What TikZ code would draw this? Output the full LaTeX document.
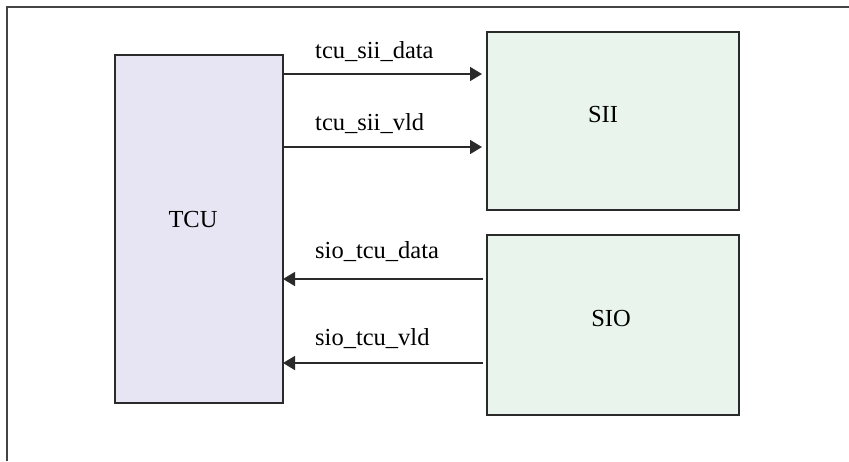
\documentclass[tikz,border=0pt]{standalone}
\usepackage{fontspec}
\setmainfont{Liberation Serif}
\usetikzlibrary{arrows.meta}
\definecolor{tcufill}{HTML}{E7E5F3}
\definecolor{siifill}{HTML}{E8F4EC}
\definecolor{edge}{HTML}{2A2A2A}
\definecolor{framec}{HTML}{444444}
\tikzset{
  blockbox/.style={draw=edge, line width=1.6pt, inner sep=0pt, outer sep=0pt, anchor=north west},
  sig/.style={draw=edge, line width=1.6pt, -{Triangle[length=12pt,width=14pt]}},
  sigtext/.style={anchor=base west, inner sep=0pt, font=\fontsize{24.5}{28}\selectfont},
  blocktext/.style={anchor=base, inner sep=0pt, font=\fontsize{24.5}{28}\selectfont},
}
\begin{document}
\begin{tikzpicture}[x=1pt,y=-1pt]
\useasboundingbox (0,0) rectangle (849,461);
% outer frame (left and top edges visible)
\draw[framec, line width=1.4pt] (7,461) -- (7,7) -- (849,7);
% blocks
\node[blockbox, fill=tcufill, minimum width=168pt, minimum height=348pt] (tcu) at (115,55) {};
\node[blockbox, fill=siifill, minimum width=252pt, minimum height=178pt] (sii) at (487,32) {};
\node[blockbox, fill=siifill, minimum width=252pt, minimum height=180pt] (sio) at (487,235) {};
% block titles
\node[blocktext] (tcut) at (193,227) {TCU};
\node[blocktext] (siit) at (603,122) {SII};
\node[blocktext] (siot) at (611,326) {SIO};
% signals
\draw[sig, shorten >=5pt] (tcu.east |- 0,74) -- (sii.west |- 0,74);
\draw[sig, shorten >=5pt] (tcu.east |- 0,147) -- (sii.west |- 0,147);
\draw[sig, shorten <=4pt] (sio.west |- 0,279) -- (tcu.east |- 0,279);
\draw[sig, shorten <=4pt] (sio.west |- 0,363) -- (tcu.east |- 0,363);
% signal labels
\node[sigtext] (l1) at (315,58) {tcu\_sii\_data};
\node[sigtext] (l2) at (315,130) {tcu\_sii\_vld};
\node[sigtext] (l3) at (315,258) {sio\_tcu\_data};
\node[sigtext] (l4) at (315,345) {sio\_tcu\_vld};
\end{tikzpicture}
\end{document}
